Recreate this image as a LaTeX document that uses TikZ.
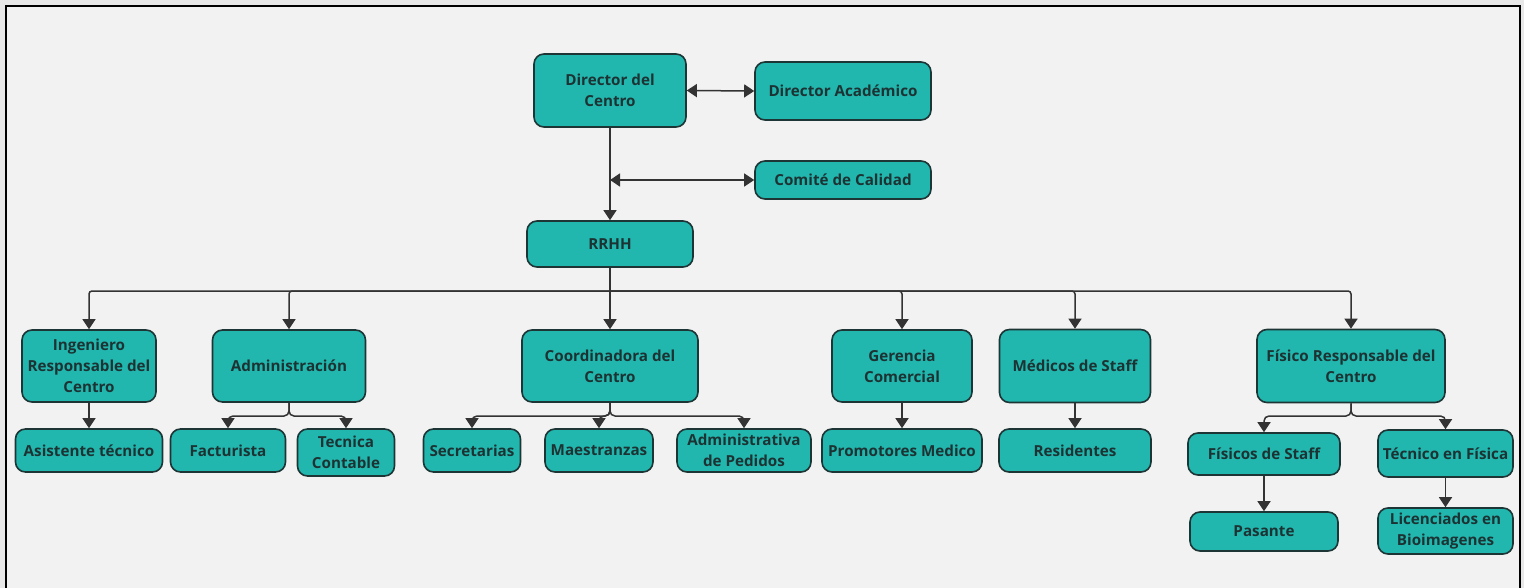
\documentclass[tikz,border=0pt]{standalone}
\usepackage{fontspec}
\setmainfont{Open Sans}
\usetikzlibrary{arrows.meta}
\definecolor{bgout}{HTML}{E8E8E8}
\definecolor{bgin}{HTML}{F2F2F2}
\definecolor{boxfill}{HTML}{21B6AE}
\definecolor{boxline}{HTML}{1E3535}
\definecolor{txt}{HTML}{1D3333}
\definecolor{lc}{HTML}{333333}
\tikzset{
  box/.style={draw=boxline, fill=boxfill, line width=1.6pt, rounded corners=10pt,
    align=center, text=txt, inner sep=0pt,
    font=\fontsize{15.2}{21}\selectfont\bfseries},
  arr/.style={draw=lc, line width=1.5pt, -{Triangle[length=10pt,width=13pt]}},
  darr/.style={draw=lc, line width=1.5pt, {Triangle[length=10pt,width=13pt]}-{Triangle[length=10pt,width=13pt]}},
  plain/.style={draw=lc, line width=1.5pt},
}
\begin{document}
\begin{tikzpicture}[x=1pt,y=-1pt]
\useasboundingbox (0,0) rectangle (1524,588);
\fill[bgout] (0,0) rectangle (1524,588);
\fill[bgin] (6,6) rectangle (1520,600);
\draw[black, line width=2.2pt] (6,600) -- (6,6) -- (1520,6) -- (1520,600);

% top
\node[box, minimum width=152pt, minimum height=73pt] (dir) at (610,90.5) {Director del\\Centro};
\node[box, minimum width=176pt, minimum height=58pt] (acad) at (843,91) {Director Académico};
\node[box, minimum width=176pt, minimum height=38pt] (com) at (843,180) {Comité de Calidad};
\node[box, minimum width=166pt, minimum height=46pt] (rrhh) at (610,244) {RRHH};

% level 2
\node[box, minimum width=134pt, minimum height=72pt] (ing) at (89,366) {Ingeniero\\Responsable del\\Centro};
\node[box, minimum width=153pt, minimum height=72pt] (adm) at (289,366) {Administración};
\node[box, minimum width=176pt, minimum height=72pt] (coord) at (610,366) {Coordinadora del\\Centro};
\node[box, minimum width=140pt, minimum height=72pt] (ger) at (902,366) {Gerencia\\Comercial};
\node[box, minimum width=151pt, minimum height=73pt] (med) at (1075,366) {Médicos de Staff};
\node[box, minimum width=188pt, minimum height=73pt] (fis) at (1351,366) {Físico Responsable del\\Centro};

% level 3
\node[box, minimum width=147pt, minimum height=43pt] (asis) at (89,450.5) {Asistente técnico};
\node[box, minimum width=115pt, minimum height=43pt] (fact) at (228,450.5) {Facturista};
\node[box, minimum width=97pt, minimum height=47pt] (tec) at (346,452.5) {Tecnica\\Contable};
\node[box, minimum width=97pt, minimum height=43pt] (sec) at (472,450.5) {Secretarias};
\node[box, minimum width=108pt, minimum height=43pt] (mae) at (599,450.5) {Maestranzas};
\node[box, minimum width=134pt, minimum height=43pt] (admp) at (744,450.5) {Administrativa\\de Pedidos};
\node[box, minimum width=160pt, minimum height=43pt] (prom) at (902,450.5) {Promotores Medico};
\node[box, minimum width=152pt, minimum height=43pt] (res) at (1075,450.5) {Residentes};
\node[box, minimum width=152pt, minimum height=42pt] (fst) at (1264,454) {Físicos de Staff};
\node[box, minimum width=135pt, minimum height=47pt] (tfis) at (1445.5,453.5) {Técnico en Física};
\node[box, minimum width=148pt, minimum height=39pt] (pas) at (1264,531.5) {Pasante};
\node[box, minimum width=135pt, minimum height=46pt] (lic) at (1445.5,531) {Licenciados en\\Bioimagenes};

% connectors top
\draw[darr] (dir.east) -- (acad.west);
\coordinate (cj) at (610,180);
\draw[darr] (cj) -- (com.west);
\draw[arr] (dir.south) -- (rrhh.north);

% main bus
\coordinate (bus) at (610,291);
\draw[plain] (rrhh.south) -- (bus);
\draw[arr, rounded corners=3pt] (bus) -| (ing.north);
\draw[arr, rounded corners=3pt] (bus) -| (adm.north);
\draw[arr] (bus) -- (coord.north);
\draw[arr, rounded corners=3pt] (bus) -| (ger.north);
\draw[arr, rounded corners=3pt] (bus) -| (med.north);
\draw[arr, rounded corners=3pt] (bus) -| (fis.north);

% sub connectors
\draw[arr] (ing.south) -- (asis.north);
\coordinate (ab) at (289,416);
\draw[arr, rounded corners=5pt] (adm.south) -- (ab) -| (fact.north);
\draw[arr, rounded corners=5pt] (adm.south) -- (ab) -| (tec.north);
\coordinate (cb) at (610,416);
\draw[arr, rounded corners=5pt] (coord.south) -- (cb) -| (sec.north);
\draw[arr, rounded corners=5pt] (coord.south) -- (cb) -| (mae.north);
\draw[arr, rounded corners=5pt] (coord.south) -- (cb) -| (admp.north);
\draw[arr] (ger.south) -- (prom.north);
\draw[arr] (med.south) -- (res.north);
\coordinate (fb) at (1351,416);
\draw[arr, rounded corners=5pt] (fis.south) -- (fb) -| (fst.north);
\draw[arr, rounded corners=5pt] (fis.south) -- (fb) -| (tfis.north);
\draw[arr] (fst.south) -- (pas.north);
\draw[arr] (tfis.south) -- (lic.north);
\end{tikzpicture}
\end{document}
